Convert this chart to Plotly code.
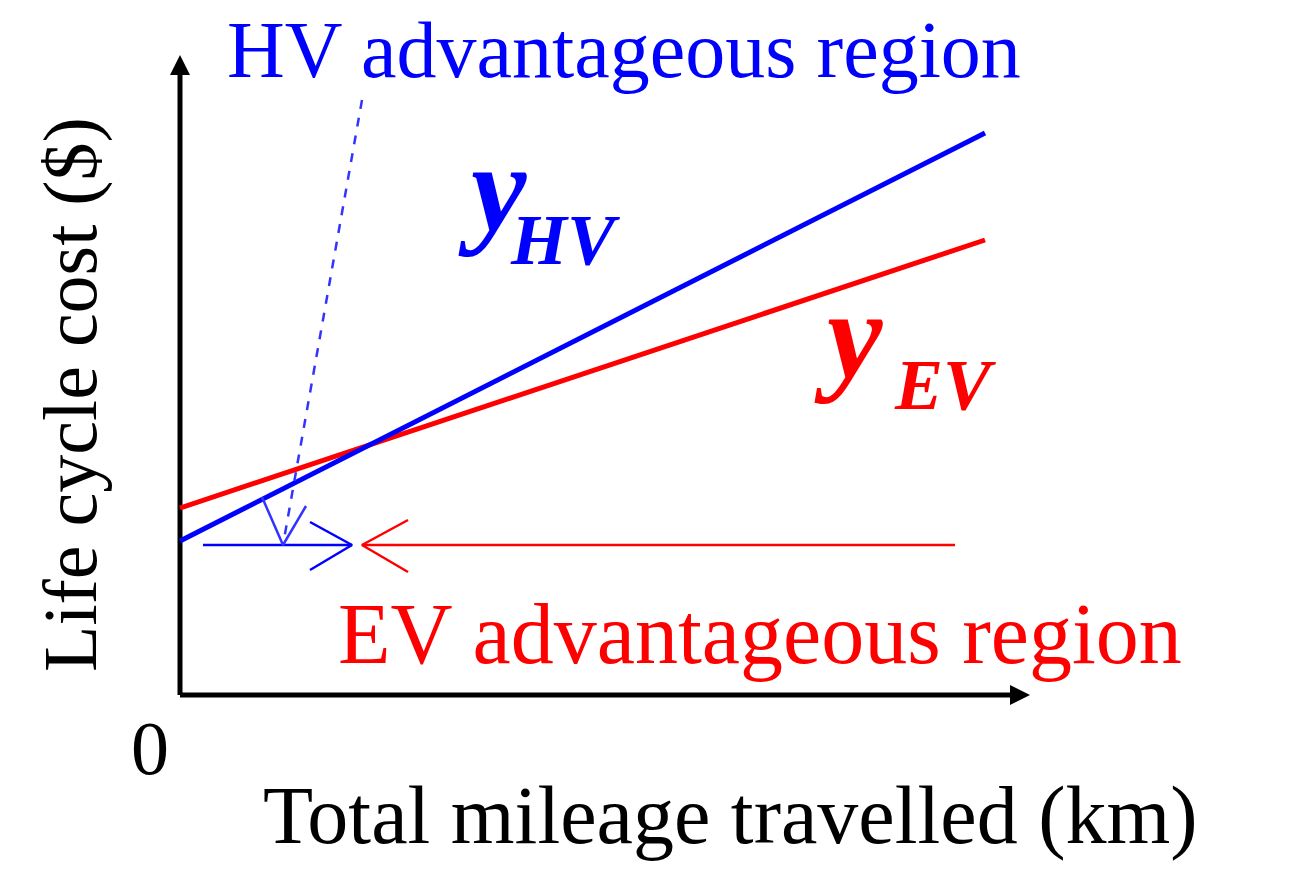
import plotly.graph_objects as go

# schematic data (pixel-space coordinates of the schematic)
hv_x = [180, 985]; hv_y = [541, 133]
ev_x = [180, 985]; ev_y = [508, 240]
blue_arrow_x = [203, 352, None, 310, 352, 310]
blue_arrow_y = [545, 545, None, 522, 545, 570]
red_arrow_x = [955, 362, None, 408, 362, 408]
red_arrow_y = [545, 545, None, 520, 545, 572]
dash_x = [362, 283]; dash_y = [100, 545]
dash_head_x = [262, 283, 306]; dash_head_y = [497, 545, 506]
axis_x = [180, 180, None, 180, 1015]
axis_y = [65, 695, None, 695, 695]

F = "Liberation Serif, Times New Roman, serif"
fig = go.Figure()
fig.add_trace(go.Scatter(x=axis_x, y=axis_y, mode="lines", line=dict(color="black", width=5)))
fig.add_trace(go.Scatter(x=ev_x, y=ev_y, mode="lines", line=dict(color="#ff0000", width=5)))
fig.add_trace(go.Scatter(x=hv_x, y=hv_y, mode="lines", line=dict(color="#0000ff", width=5)))
fig.add_trace(go.Scatter(x=blue_arrow_x, y=blue_arrow_y, mode="lines", line=dict(color="#0000ff", width=2.5)))
fig.add_trace(go.Scatter(x=red_arrow_x, y=red_arrow_y, mode="lines", line=dict(color="#ff0000", width=2.5)))
fig.add_trace(go.Scatter(x=dash_x, y=dash_y, mode="lines", line=dict(color="#3333ff", width=2.5, dash="dash")))
fig.add_trace(go.Scatter(x=dash_head_x, y=dash_head_y, mode="lines", line=dict(color="#3333ff", width=2.5)))

for (x, y, ax, ay) in [(180, 55, 180, 120), (1030, 695, 965, 695)]:
    fig.add_annotation(x=x, y=y, ax=ax, ay=ay, xref="x", yref="y", axref="x", ayref="y",
                       showarrow=True, arrowhead=2, arrowsize=1, arrowwidth=4, arrowcolor="black", text="")

def txt(x, y, s, color, size, **kw):
    fig.add_annotation(x=x, y=y, text=s, showarrow=False, xref="x", yref="y",
                       font=dict(family=F, size=size, color=color), **kw)

txt(624, 50, "HV advantageous region", "#0000ff", 80)
txt(760, 634, "EV advantageous region", "#ff0000", 86)
txt(492, 188, "<b><i>y</i></b>", "#0000ff", 125)
txt(565, 240, "<b><i>HV</i></b>", "#0000ff", 72)
txt(848, 335, "<b><i>y</i></b>", "#ff0000", 125)
txt(945, 385, "<b><i>EV</i></b>", "#ff0000", 72)
txt(730, 815, "Total mileage travelled (km)", "black", 82)
txt(150, 748, "0", "black", 76)
txt(70, 395, "Life cycle cost ($)", "black", 76, textangle=-90)

fig.update_layout(width=1289, height=878, margin=dict(l=0, r=0, t=0, b=0),
                  plot_bgcolor="white", paper_bgcolor="white", showlegend=False,
                  xaxis=dict(range=[8, 1297], visible=False, fixedrange=True),
                  yaxis=dict(range=[886, 8], visible=False, fixedrange=True))
fig.write_html("out.html")
